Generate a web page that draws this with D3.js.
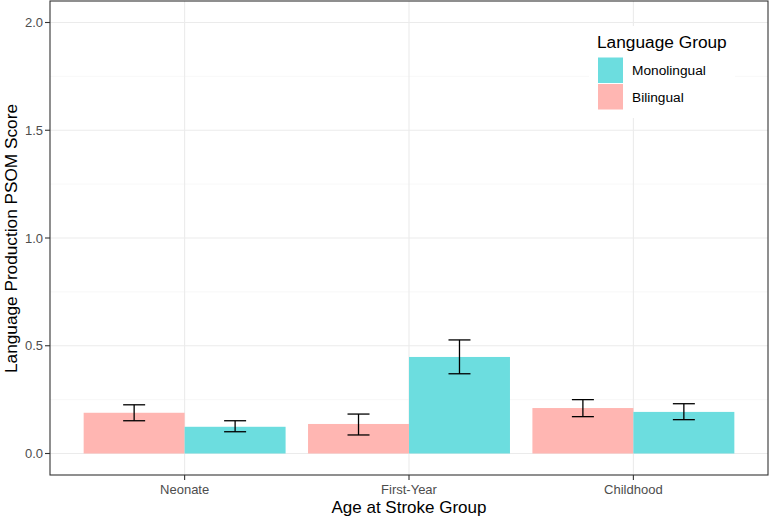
<!DOCTYPE html>
<html><head><meta charset="utf-8">
<script src="https://cdn.jsdelivr.net/npm/d3@7"></script>
<style>body{margin:0;background:#fff;} text{font-family:"Liberation Sans",Arial,sans-serif;}</style>
</head><body>
<svg id="c" width="771" height="518"></svg>
<script>
const categories = ["Neonate", "First-Year", "Childhood"];
const groups = ["Bilingual", "Monolingual"];
const legendOrder = ["Monolingual", "Bilingual"];
const bilingualMean = [0.189, 0.137, 0.211];
const bilingualLow = [0.152, 0.086, 0.171];
const bilingualHigh = [0.226, 0.183, 0.250];
const monolingualMean = [0.124, 0.448, 0.193];
const monolingualLow = [0.101, 0.370, 0.157];
const monolingualHigh = [0.152, 0.527, 0.231];
const yTicks = [0, 0.5, 1.0, 1.5, 2.0];
const yMinor = [0.25, 0.75, 1.25, 1.75];

const colors = {Bilingual: "#FFB6B2", Monolingual: "#6CDDDF"};
const data = [];
categories.forEach((c, i) => {
  data.push({cat: c, grp: "Bilingual", v: bilingualMean[i], lo: bilingualLow[i], hi: bilingualHigh[i]});
  data.push({cat: c, grp: "Monolingual", v: monolingualMean[i], lo: monolingualLow[i], hi: monolingualHigh[i]});
});

const svg = d3.select("#c");
const L = 50, R = 768, T = 1, B = 475;
const y = d3.scaleLinear().domain([0, 2]).range([453.5, 22.5]);
// ggplot-like discrete axis: centers spaced by step, expansion 0.6 step each side
const x = d3.scalePoint().domain(categories).range([L, R]).padding(0.6);
const step = x.step();
const cx = c => x(c);
const bw = step * 0.9;
const xs = d3.scaleBand().domain(groups).range([-bw / 2, bw / 2]);

svg.append("rect").attr("x", L).attr("y", T).attr("width", R - L).attr("height", B - T).attr("fill", "#fff");
svg.selectAll(".ym").data(yMinor).enter().append("line")
  .attr("x1", L).attr("x2", R).attr("y1", d => y(d)).attr("y2", d => y(d))
  .attr("stroke", "#f4f4f4").attr("stroke-width", 0.6);
svg.selectAll(".yg").data(yTicks).enter().append("line")
  .attr("x1", L).attr("x2", R).attr("y1", d => y(d)).attr("y2", d => y(d))
  .attr("stroke", "#ebebeb").attr("stroke-width", 1.1);
svg.selectAll(".xg").data(categories).enter().append("line")
  .attr("x1", d => cx(d)).attr("x2", d => cx(d)).attr("y1", T).attr("y2", B)
  .attr("stroke", "#ebebeb").attr("stroke-width", 1.1);

svg.selectAll(".bar").data(data).enter().append("rect")
  .attr("x", d => cx(d.cat) + xs(d.grp)).attr("width", xs.bandwidth())
  .attr("y", d => y(d.v)).attr("height", d => y(0) - y(d.v))
  .attr("fill", d => colors[d.grp]);

const capW = 22;
const eg = svg.selectAll(".err").data(data).enter().append("g")
  .attr("transform", d => `translate(${cx(d.cat) + xs(d.grp) + xs.bandwidth() / 2},0)`);
eg.append("line").attr("x1", 0).attr("x2", 0).attr("y1", d => y(d.lo)).attr("y2", d => y(d.hi)).attr("stroke", "#000").attr("stroke-width", 1.3);
eg.append("line").attr("x1", -capW / 2).attr("x2", capW / 2).attr("y1", d => y(d.lo)).attr("y2", d => y(d.lo)).attr("stroke", "#000").attr("stroke-width", 1.3);
eg.append("line").attr("x1", -capW / 2).attr("x2", capW / 2).attr("y1", d => y(d.hi)).attr("y2", d => y(d.hi)).attr("stroke", "#000").attr("stroke-width", 1.3);

svg.append("rect").attr("x", L).attr("y", T).attr("width", R - L).attr("height", B - T)
  .attr("fill", "none").attr("stroke", "#333").attr("stroke-width", 1.1);

const yt = svg.selectAll(".yt").data(yTicks).enter().append("g");
yt.append("line").attr("x1", L - 5).attr("x2", L).attr("y1", d => y(d)).attr("y2", d => y(d)).attr("stroke", "#333").attr("stroke-width", 1.1);
yt.append("text").attr("x", L - 7).attr("y", d => y(d)).attr("dy", "0.36em").attr("text-anchor", "end")
  .attr("font-size", 13).attr("fill", "#4d4d4d").text(d => d.toFixed(1));
const xt = svg.selectAll(".xt").data(categories).enter().append("g");
xt.append("line").attr("x1", d => cx(d)).attr("x2", d => cx(d)).attr("y1", B).attr("y2", B + 5).attr("stroke", "#333").attr("stroke-width", 1.1);
xt.append("text").attr("x", d => cx(d)).attr("y", B + 19).attr("text-anchor", "middle")
  .attr("font-size", 13).attr("fill", "#4d4d4d").text(d => d);

svg.append("text").attr("x", (L + R) / 2).attr("y", 513).attr("text-anchor", "middle").attr("font-size", 17).attr("fill", "#000").text("Age at Stroke Group");
svg.append("text").attr("transform", `translate(17,${(T + B) / 2 + 0.5}) rotate(-90)`).attr("text-anchor", "middle")
  .attr("font-size", 17).attr("textLength", 269).attr("lengthAdjust", "spacingAndGlyphs")
  .attr("fill", "#000").text("Language Production PSOM Score");

const lg = svg.append("g");
lg.append("rect").attr("x", 589).attr("y", 26).attr("width", 146).attr("height", 92).attr("fill", "#fff");
lg.append("text").attr("x", 597).attr("y", 48).attr("font-size", 17.3).attr("fill", "#000").text("Language Group");
legendOrder.forEach((g, i) => {
  lg.append("rect").attr("x", 598).attr("y", 57.5 + i * 26.5).attr("width", 25).attr("height", 25.5).attr("fill", colors[g]);
  lg.append("text").attr("x", 632).attr("y", 70.5 + i * 26.5).attr("dy", "0.35em").attr("font-size", 13.7).attr("fill", "#000").text(g);
});
</script>
</body></html>
